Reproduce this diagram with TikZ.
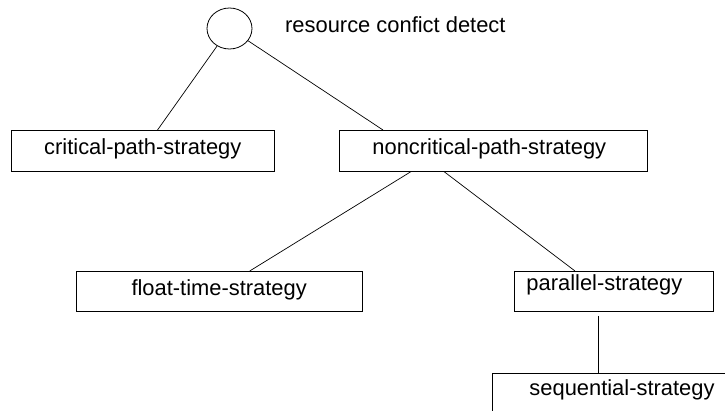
\documentclass[tikz,border=0pt]{standalone}
\usepackage{fontspec}
\setmainfont{Liberation Sans}
\usetikzlibrary{shapes.geometric}
\begin{document}
\begin{tikzpicture}[x=1pt,y=-1pt,font=\fontsize{21.9}{26}\selectfont]
            \tikzstyle{root node}=[ellipse,draw,line width=0.8pt,minimum width=45pt,minimum height=41pt,inner sep=0]
            \tikzstyle{strategy node}=[rectangle,draw,line width=0.9pt,inner sep=0,anchor=north west]
            \tikzstyle{edge}=[line width=0.7pt]

            \useasboundingbox (0,0) rectangle (725,411);
            \clip (0,0) rectangle (725,411);

            \node(root)[root node] at (229.5,28.5){};
            \node(title)[anchor=base west,inner sep=0] at (285,32.5){resource confict detect};

            \node(crit)[strategy node,minimum width=263.3pt,text height=24.3pt,text depth=16.4pt] at (10.7,130){critical-path-strategy};
            \node(noncrit)[strategy node,inner xsep=33pt,text width=241.7pt,align=left,text height=24.3pt,text depth=16.4pt] at (339,130){noncritical-path-strategy};
            \node(float)[strategy node,minimum width=286pt,text height=24pt,text depth=16pt] at (75.7,271){float-time-strategy};
            \node(par)[strategy node,inner xsep=12pt,text width=174.7pt,align=left,text height=19.5pt,text depth=20.5pt] at (514,271){parallel-strategy};
            \node(seq)[strategy node,inner xsep=37pt,text width=220pt,align=left,text height=22.3pt,text depth=30pt] at (492,372.7){sequential-strategy};

            \draw[edge] (root) -- (crit);
            \draw[edge] (root) -- ([xshift=44pt]noncrit.north west);
            \draw[edge] ([xshift=72pt]noncrit.south west) -- ([xshift=174pt]float.north west);
            \draw[edge] ([xshift=105pt]noncrit.south west) -- ([xshift=61pt]par.north west);
            \draw[edge] ([xshift=84pt,yshift=-4pt]par.south west) -- ([xshift=106pt]seq.north west);
\end{tikzpicture}
\end{document}
